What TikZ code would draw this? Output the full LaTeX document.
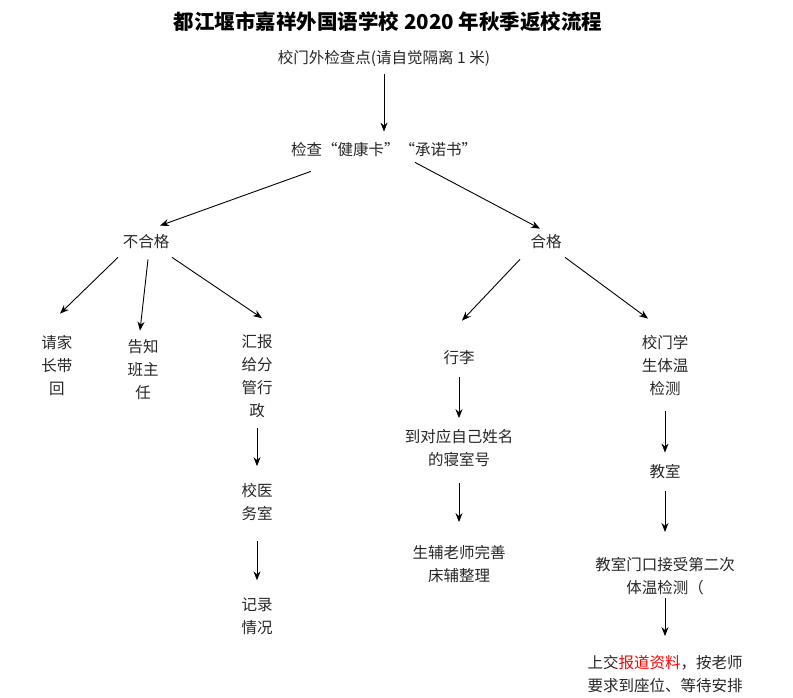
\documentclass[tikz,border=0pt]{standalone}
\usepackage{fontspec}
\setmainfont{Noto Sans CJK SC}
\usepackage{xcolor}
\usepackage{tikz}
\usetikzlibrary{arrows.meta, positioning}

\begin{document}
\begin{tikzpicture}[x=1pt, y=-1pt]
\tikzstyle{txt} = [align=center, inner sep=2pt, text=black!85, font=\fontsize{15.5}{23}\selectfont]
\tikzstyle{heading} = [inner sep=2pt, font=\bfseries\fontsize{20.5}{24}\selectfont]
\tikzstyle{arrow} = [line width=0.9pt, -{Stealth[length=9pt, width=7pt]}]

\useasboundingbox (0,0) rectangle (793,698);

\node (title) [heading] at (388,22) {都江堰市嘉祥外国语学校 2020 年秋季返校流程};
\node (gate) [txt] at (384,58) {校门外检查点(请自觉隔离\ 1\ 米)};
\node (check) [txt] at (384,150) {检查“健康卡”“承诺书”};
\node (fail) [txt] at (146,242) {不合格};
\node (pass) [txt] at (546,242) {合格};

% not passed
\node (ask) [txt] at (57,366) {请家\\长带\\回};
\node (tell) [txt] at (143,370) {告知\\班主\\任};
\node (report) [txt] at (257,376) {汇报\\给分\\管行\\政};
\node (clinic) [txt] at (257,502) {校医\\务室};
\node (record) [txt] at (257,616) {记录\\情况};

% passed
\node (luggage) [txt] at (459,358) {行李};
\node (dorm) [txt] at (459,448) {到对应自己姓名\\的寝室号};
\node (bed) [txt] at (459,564) {生辅老师完善\\床辅整理};
\node (temp) [txt] at (665,366) {校门学\\生体温\\检测};
\node (room) [txt] at (665,472) {教室};
\node (second) [txt] at (665,576) {教室门口接受第二次\\体温检测（};
\node (submit) [txt] at (665,674) {上交\textcolor{red}{报道资料}，按老师\\要求到座位、等待安排};

\draw [arrow, shorten <=6pt, shorten >=9pt] (gate) -- (check);
\draw [arrow] ([xshift=22pt, yshift=-12pt]check.south west) -- ([xshift=14pt, yshift=7pt]fail.north);
\draw [arrow] ([xshift=31pt, yshift=-3pt]check.south) -- ([xshift=-6pt, yshift=4pt]pass.north);

\draw [arrow] ([xshift=-28pt, yshift=-6pt]fail.south) -- ([xshift=3pt, yshift=20pt]ask.north);
\draw [arrow] ([xshift=2pt, yshift=-8pt]fail.south) -- ([xshift=-3pt, yshift=7pt]tell.north);
\draw [arrow] ([xshift=26pt, yshift=-6pt]fail.south) -- ([xshift=5pt, yshift=14pt]report.north);
\draw [arrow, shorten <=8pt, shorten >=15pt] (report.south) -- (clinic.north);
\draw [arrow, shorten <=18pt, shorten >=15pt] (clinic.south) -- (record.north);

\draw [arrow] ([xshift=-26pt, yshift=-8pt]pass.south) -- ([xshift=3pt, yshift=28pt]luggage.north);
\draw [arrow] ([xshift=19pt, yshift=-6pt]pass.south) -- ([xshift=-17pt, yshift=15pt]temp.north);
\draw [arrow, shorten <=10pt, shorten >=9pt] (luggage.south) -- (dorm.north);
\draw [arrow, shorten <=14pt, shorten >=21pt] (dorm.south) -- (bed.north);
\draw [arrow, shorten <=13pt, shorten >=10pt] (temp.south) -- (room.north);
\draw [arrow, shorten <=10pt, shorten >=23pt] (room.south) -- (second.north);
\draw [arrow, shorten <=1pt, shorten >=17pt] (second.south) -- (submit.north);
\end{tikzpicture}
\end{document}
